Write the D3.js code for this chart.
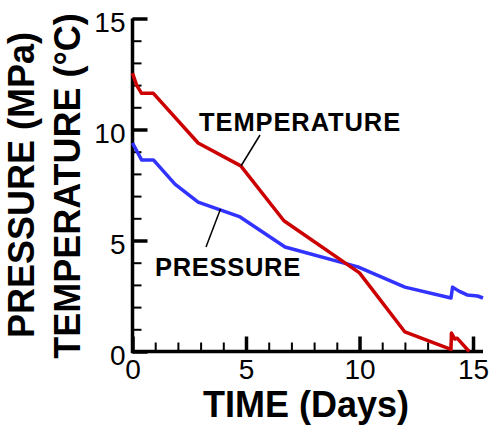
<!DOCTYPE html>
<html><head><meta charset="utf-8">
<script src="https://cdn.jsdelivr.net/npm/d3@7"></script>
<style>
body{margin:0;background:#fff;}
svg{display:block;font-family:"Liberation Sans",Arial,sans-serif;}
</style></head>
<body>
<svg id="chart" width="491" height="429"></svg>
<script>
// Data
const tempDays = [0, 0.18, 0.4, 0.92, 2.89, 4.77, 6.67, 10.0, 12.0, 14.03, 14.05, 14.2, 14.3, 14.83];
const tempValues = [12.54, 12.0, 11.63, 11.63, 9.39, 8.36, 5.89, 3.54, 0.88, 0.1, 0.83, 0.56, 0.6, 0.0];
const presDays = [0, 0.4, 0.92, 1.87, 2.89, 4.74, 6.72, 9.93, 12.0, 14.03, 14.1, 14.38, 14.74, 15.2, 15.44];
const presValues = [9.39, 8.63, 8.63, 7.54, 6.73, 6.06, 4.71, 3.81, 2.9, 2.41, 2.9, 2.72, 2.55, 2.5, 2.41];
const xMajorTicks = [0, 5, 10, 15];
const yMajorTicks = [0, 5, 10, 15];
const xMinorTicks = d3.range(0, 16, 1);
const yMinorTicks = d3.range(0, 16, 1);

const svg = d3.select("#chart");
const x = d3.scaleLinear().domain([0, 15.44]).range([132.5, 483]);
const y = d3.scaleLinear().domain([0, 15]).range([351.5, 18.5]);

// minor ticks
svg.append("g").attr("transform", `translate(0,${y(0)})`)
  .call(d3.axisBottom(x).tickValues(xMinorTicks).tickSize(-9).tickFormat(""))
  .call(g => { g.select(".domain").remove(); g.selectAll("line").attr("stroke","#000").attr("stroke-width",2); });
svg.append("g").attr("transform", `translate(${x(0)},0)`)
  .call(d3.axisLeft(y).tickValues(yMinorTicks).tickSize(-9).tickFormat(""))
  .call(g => { g.select(".domain").remove(); g.selectAll("line").attr("stroke","#000").attr("stroke-width",2); });

// major ticks + labels
svg.append("g").attr("transform", `translate(0,${y(0)})`)
  .call(d3.axisBottom(x).tickValues(xMajorTicks).tickSize(-15).tickPadding(8).tickFormat(d3.format("d")))
  .call(g => {
    g.select(".domain").attr("d", `M${x(0)},0H${x(15.44)}`).attr("stroke","#000").attr("stroke-width",3.5);
    g.selectAll("line").attr("stroke","#000").attr("stroke-width",3.5);
    g.selectAll("text").attr("font-size",28).attr("fill","#000").attr("font-family","Liberation Sans, Arial, sans-serif");
  });
svg.append("g").attr("transform", `translate(${x(0)},0)`)
  .call(d3.axisLeft(y).tickValues(yMajorTicks).tickSize(-15).tickPadding(7).tickFormat(d3.format("d")))
  .call(g => {
    g.select(".domain").attr("d", `M0,${y(0)+1.75}V${y(15)}`).attr("stroke","#000").attr("stroke-width",3.5);
    g.selectAll("line").attr("stroke","#000").attr("stroke-width",3.5);
    g.selectAll("text").attr("font-size",28).attr("fill","#000").attr("dy","0.45em").attr("font-family","Liberation Sans, Arial, sans-serif");
  });

// lines
const line = d3.line().x(d => x(d[0])).y(d => y(d[1]));
svg.append("path").datum(presDays.map((d,i)=>[d,presValues[i]]))
  .attr("d", line).attr("fill","none").attr("stroke","#3333ff").attr("stroke-width",3.5).attr("stroke-linejoin","round");
svg.append("path").datum(tempDays.map((d,i)=>[d,tempValues[i]]))
  .attr("d", line).attr("fill","none").attr("stroke","#cc0000").attr("stroke-width",3.5).attr("stroke-linejoin","round");

// series labels with leader lines
svg.append("line").attr("x1",260).attr("y1",135).attr("x2",241).attr("y2",166).attr("stroke","#000").attr("stroke-width",1.5);
svg.append("line").attr("x1",220.5).attr("y1",209).attr("x2",206).attr("y2",247).attr("stroke","#000").attr("stroke-width",1.5);
svg.append("text").attr("x",199).attr("y",131).attr("font-size",25.5).attr("letter-spacing",0.9).attr("font-weight","bold").text("TEMPERATURE");
svg.append("text").attr("x",155).attr("y",276).attr("font-size",25.5).attr("letter-spacing",0.7).attr("font-weight","bold").text("PRESSURE");

// axis titles
svg.append("text").attr("x",306).attr("y",417).attr("text-anchor","middle").attr("font-size",36).attr("font-weight","bold").text("TIME (Days)");
svg.append("text").attr("transform","translate(34,185) rotate(-90)").attr("text-anchor","middle").attr("font-size",36).attr("font-weight","bold").text("PRESSURE (MPa)");
svg.append("text").attr("transform","translate(80,186) rotate(-90)").attr("text-anchor","middle").attr("font-size",36).attr("font-weight","bold").text("TEMPERATURE (°C)");
</script>
</body></html>
